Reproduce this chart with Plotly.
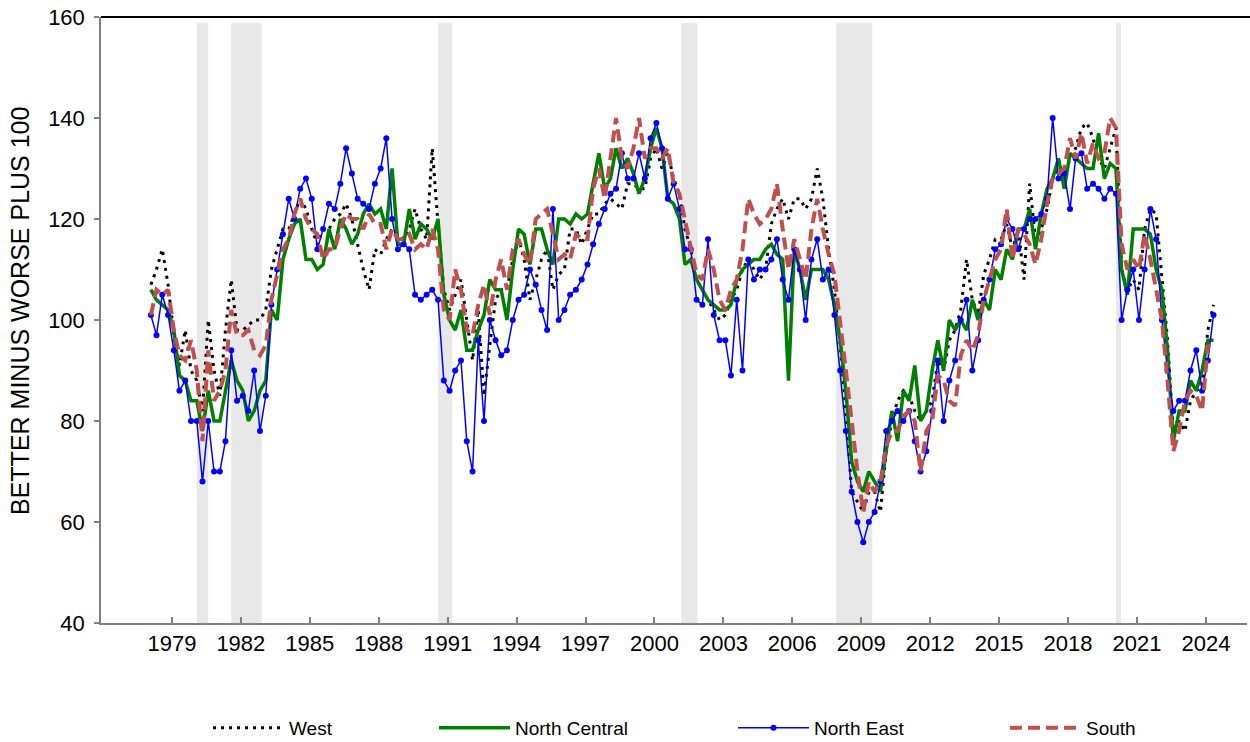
import pandas as pd
import plotly.graph_objects as go

# Quarterly readings (Feb, May, Aug, Nov) from 1978 to May 2024
west = [
    107, 110, 114, 107,  97, 91, 98, 90,  88, 82, 100, 90,  85, 98, 108, 98,
    98, 99, 100, 100,  102, 110, 114, 118,  118, 121, 124, 122,  118, 115, 118, 118,
    120, 121, 123, 120,  115, 110, 106, 114,  113, 116, 118, 117,  116, 118, 122, 118,
    116, 134, 119, 106,  102, 105, 108, 100,  92, 102, 85, 95,  104, 106, 106, 112,
    116, 112, 104, 108,  112, 114, 106, 109,  110, 118, 118, 115,  118, 121, 121, 123,
    124, 123, 122, 127,  127, 126, 126, 132,  134, 130, 133, 128,  125, 118, 114, 108,
    106, 104, 102, 100,  101, 104, 106, 110,  112, 110, 108, 110,  119, 122, 124, 120,
    124, 124, 122, 124,  130, 124, 114, 106,  95, 82, 66, 64,  62, 66, 66, 62,
    74, 80, 84, 86,  85, 82, 80, 82,  84, 92, 90, 96,  98, 102, 112, 104,
    101, 109, 112, 116,  116, 119, 114, 118,  108, 127, 116, 118,  122, 128, 130, 128,
    132, 134, 138, 139,  136, 132, 130, 134,  138, 110, 106, 108,  106, 118, 122, 121,
    108, 96, 78, 80,  78, 84, 86, 87,  98, 103,
]
north_central = [
    106, 104, 103, 102,  98, 89, 88, 84,  84, 78, 86, 80,  80, 86, 92, 88,
    86, 80, 82, 86,  88, 102, 100, 112,  116, 119, 120, 112,  112, 110, 111, 118,
    114, 120, 118, 115,  117, 121, 123, 121,  122, 118, 130, 115,  115, 122, 116, 119,
    118, 116, 120, 105,  100, 98, 102, 94,  94, 98, 101, 108,  106, 106, 100, 110,
    118, 117, 111, 118,  118, 114, 111, 120,  120, 119, 121, 120,  121, 127, 133, 126,
    128, 134, 130, 132,  129, 125, 128, 134,  138, 134, 124, 123,  120, 111, 112, 108,
    106, 104, 103, 102,  102, 103, 108, 110,  111, 112, 112, 114,  115, 113, 112, 88,
    114, 110, 104, 110,  110, 110, 108, 103,  96, 86, 72, 68,  66, 70, 68, 66,
    74, 82, 76, 86,  84, 91, 80, 82,  90, 96, 90, 100,  98, 100, 98, 104,
    100, 104, 102, 110,  108, 114, 112, 118,  118, 122, 114, 121,  126, 128, 132, 126,
    133, 132, 131, 130,  130, 137, 128, 131,  130, 110, 105, 118,  118, 118, 117, 110,
    106, 94, 76, 82,  82, 88, 86, 90,  96, 96,
]
north_east = [
    101, 97, 105, 101,  94, 86, 88, 80,  80, 68, 80, 70,  70, 76, 94, 84,
    85, 82, 90, 78,  85, 103, 110, 117,  124, 120, 126, 128,  124, 114, 118, 123,
    122, 127, 134, 129,  124, 123, 122, 127,  130, 136, 120, 114,  115, 114, 105, 104,
    105, 106, 104, 88,  86, 90, 92, 76,  70, 96, 80, 100,  96, 93, 94, 100,
    104, 105, 110, 107,  102, 98, 122, 100,  102, 105, 106, 108,  111, 115, 119, 122,
    125, 126, 133, 128,  128, 133, 128, 136,  139, 134, 124, 127,  122, 114, 114, 104,
    103, 116, 101, 96,  96, 89, 104, 90,  112, 108, 110, 110,  112, 116, 108, 104,
    114, 110, 100, 112,  116, 108, 110, 101,  90, 78, 66, 60,  56, 60, 62, 68,
    78, 80, 82, 80,  82, 76, 70, 74,  82, 92, 80, 88,  92, 100, 104, 90,
    96, 104, 108, 114,  115, 120, 118, 114,  118, 120, 120, 121,  124, 140, 128, 129,
    122, 132, 133, 126,  127, 126, 124, 126,  125, 100, 106, 110,  100, 110, 122, 116,
    100, 90, 82, 84,  84, 90, 94, 86,  92, 101,
]
south = [
    101, 106, 105, 106,  98, 93, 92, 96,  90, 76, 94, 84,  86, 90, 102, 97,
    97, 98, 94, 93,  95, 104, 109, 114,  116, 121, 124, 120,  118, 117, 112, 114,
    114, 118, 121, 120,  120, 118, 121, 119,  119, 114, 118, 116,  116, 117, 114, 115,
    114, 118, 114, 102,  100, 110, 106, 98,  97, 103, 107, 101,  108, 112, 106, 114,
    116, 113, 111, 120,  121, 122, 117, 112,  113, 112, 117, 116,  116, 126, 130, 124,
    132, 140, 132, 130,  134, 140, 132, 134,  134, 132, 134, 127,  125, 120, 115, 109,
    108, 114, 110, 104,  102, 106, 108, 114,  124, 121, 119, 120,  122, 127, 118, 110,
    116, 112, 108, 118,  124, 118, 113, 109,  100, 90, 80, 70,  62, 68, 66, 68,
    75, 78, 78, 81,  82, 80, 70, 78,  80, 89, 88, 84,  83, 93, 96, 94,
    97, 104, 108, 112,  114, 122, 112, 118,  117, 115, 111, 116,  123, 128, 129, 130,
    136, 132, 137, 131,  135, 132, 133, 140,  138, 115, 110, 112,  110, 117, 112, 106,
    100, 88, 74, 78,  84, 86, 85, 82,  95, 94,
]

tick_years = list(range(1979, 2025, 3))
recessions = [
    ("1980-02-01", "1980-07-31"),
    ("1981-08-01", "1982-11-30"),
    ("1990-08-01", "1991-03-15"),
    ("2001-03-01", "2001-11-15"),
    ("2007-12-01", "2009-06-25"),
    ("2020-02-01", "2020-04-20"),
]
y_title = "BETTER MINUS WORSE PLUS 100"

dates = pd.date_range("1978-02-01", periods=len(west), freq="3MS")

FONT = "Liberation Sans, Arial, sans-serif"
fig = go.Figure()

fig.add_trace(go.Scatter(x=dates, y=west, name="West", mode="lines",
                         line=dict(color="black", width=3, dash="3px,5px"),
                         legend="legend"))
fig.add_trace(go.Scatter(x=dates, y=north_central, name="North Central", mode="lines",
                         line=dict(color="#008000", width=3.5),
                         legend="legend2"))
fig.add_trace(go.Scatter(x=dates, y=north_east, name="North East", mode="lines+markers",
                         line=dict(color="#0000FF", width=1.5),
                         marker=dict(color="#0000FF", size=6),
                         legend="legend3"))
fig.add_trace(go.Scatter(x=dates, y=south, name="South", mode="lines",
                         line=dict(color="#C0504D", width=4, dash="12px,6px"),
                         legend="legend4"))

for s, e in recessions:
    fig.add_shape(type="rect", xref="x", yref="y", x0=s, x1=e, y0=40, y1=158.8,
                  fillcolor="#E8E8E8", line=dict(width=0), layer="below")

# top border line
fig.add_shape(type="line", xref="paper", yref="paper", x0=0, x1=1.003, y0=1, y1=1,
              line=dict(color="black", width=2))

L, R, T, B = 101, 3, 17, 119
W, H = 1250, 742
pw = W - L - R
ph = H - T - B

def lx(px):
    return (px - L) / pw

def py(pxy):
    return (H - B - pxy) / ph

ly = py(728)

# y-axis title as rotated text
fig.add_annotation(text=y_title, xref="paper", yref="paper",
                   x=lx(20), y=py(311), xanchor="center", yanchor="middle",
                   textangle=-90, showarrow=False,
                   font=dict(family=FONT, size=25, color="black"))

legend_common = dict(orientation="h", yanchor="middle", y=ly, xanchor="left",
                     bgcolor="rgba(0,0,0,0)", borderwidth=0,
                     font=dict(family=FONT, size=19, color="black"),
                     itemwidth=71, itemclick=False, itemdoubleclick=False)

fig.update_layout(
    width=W, height=H,
    margin=dict(l=L, r=R, t=T, b=B, autoexpand=False),
    paper_bgcolor="white", plot_bgcolor="white",
    font=dict(family=FONT, size=22, color="black"),
    showlegend=True,
    legend=dict(x=lx(208), **legend_common),
    legend2=dict(x=lx(434), **legend_common),
    legend3=dict(x=lx(733), **legend_common),
    legend4=dict(x=lx(1005), **legend_common),
    xaxis=dict(
        type="date",
        range=["1975-12-01", "2025-10-15"],
        tickvals=[f"{y}-01-01" for y in tick_years],
        ticktext=[str(y) for y in tick_years],
        ticks="inside", ticklen=6, tickwidth=1.5, tickcolor="#808080",
        showline=True, linecolor="#808080", linewidth=1.5,
        showgrid=False, zeroline=False,
        tickfont=dict(family=FONT, size=22, color="black"),
    ),
    yaxis=dict(
        range=[40, 160], dtick=20, tick0=40,
        ticks="outside", ticklen=5, tickwidth=1.5, tickcolor="#808080",
        showline=True, linecolor="#808080", linewidth=1.5,
        showgrid=False, zeroline=False, ticklabelstandoff=5,
        tickfont=dict(family=FONT, size=22, color="black"),
    ),
)

fig.write_html(
    "out.html",
    config={"displayModeBar": False},
    post_script="document.body.style.margin='0';document.body.style.padding='0';"
                "document.body.style.overflow='hidden';",
)
